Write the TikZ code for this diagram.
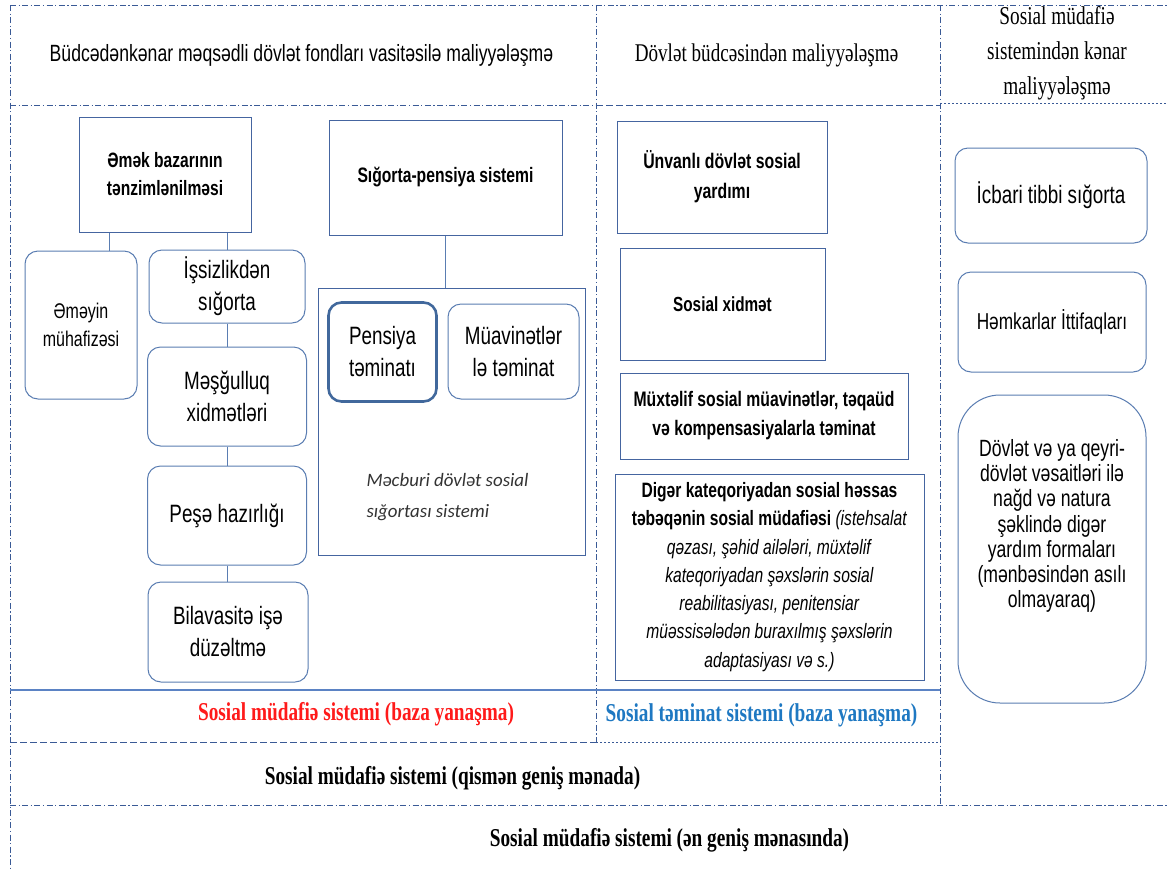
\documentclass[tikz,border=0pt]{standalone}
\usepackage{fontspec}
\setmainfont{Liberation Serif}
\newfontfamily\nsans[FakeStretch=0.75]{Liberation Sans}
\newfontfamily\nserif[FakeStretch=0.75]{Liberation Serif}
\newfontfamily\calfont{Carlito}
\newcommand\fsz[2]{\fontsize{#1}{#2}\selectfont}
\definecolor{bl}{HTML}{4565A0}
\definecolor{rbl}{HTML}{5A7DB2}
\definecolor{pbl}{HTML}{41689C}
\definecolor{dl}{HTML}{3A5A96}
\definecolor{tb}{HTML}{1E78C2}
\definecolor{rd}{HTML}{FF1A1A}
\definecolor{sl}{HTML}{5B83C4}
\begin{document}
\begin{tikzpicture}[x=1pt,y=-1pt,
 sq/.style={draw=bl,line width=1pt,fill=white,align=center,inner sep=1pt},
 rb/.style={sq,draw=rbl,rounded corners=13pt},
 conn/.style={draw=rbl,line width=0.9pt},
 dashdot/.style={draw=dl,line width=0.9pt,dash pattern=on 6pt off 2.5pt on 1.2pt off 2.5pt},
 dashl/.style={draw=dl,line width=0.9pt,dash pattern=on 7pt off 3pt},
 dotl/.style={draw=dl,line width=0.9pt,dash pattern=on 2pt off 2pt},
 reg/.style={font=\nsans\fsz{25.1}{32}},
 bld/.style={font=\nsans\bfseries\fsz{20.8}{28}},
 lab/.style={font=\nserif\bfseries\fsz{25.7}{28}},
 ]
\useasboundingbox[fill=white] (0,0) rectangle (1167,868);
% frame coordinates
\coordinate (L0) at (10,5);
\coordinate (L1) at (10,868);
\coordinate (E0) at (1167,5);
\coordinate (M0) at (596,5);
\coordinate (M1) at (596,742);
\coordinate (R0) at (940,5);
\coordinate (R1) at (940,805);
\coordinate (H0) at (10,105);
\coordinate (H1) at (596,105);
\coordinate (H2) at (940,105);
\coordinate (H3) at (940,103);
\coordinate (H4) at (1167,103);
\coordinate (S0) at (10,690);
\coordinate (S1) at (940,690);
\coordinate (D0) at (10,742);
\coordinate (D2) at (940,742);
\coordinate (B0) at (10,805);
\coordinate (B1) at (1167,805);
\draw[dashdot] (L0) -- (E0);
\draw[dashdot] (L0) -- (L1);
\draw[dashdot] (M0) -- (M1);
\draw[dashdot] (R0) -- (R1);
\draw[dashdot] (H0) -- (H1);
\draw[dashl] (H1) -- (H2);
\draw[dotl] (H3) -- (H4);
\draw[sl,line width=1.6pt] (S0) -- (S1);
\draw[dashl] (D0) -- (M1);
\draw[dotl] (M1) -- (D2);
\draw[dashdot] (B0) -- (B1);

% headers
\node[font=\nsans\fsz{23.5}{26}] (h1) at (301.5,55) {Büdcədənkənar məqsədli dövlət fondları vasitəsilə maliyyələşmə};
\node[font=\nserif\fsz{25.5}{26}] (h2) at (766.5,55) {Dövlət büdcəsindən maliyyələşmə};
\node[font=\nserif\fsz{25.7}{35},align=center] (h3) at (1057,53) {Sosial müdafiə\\sistemindən kənar\\maliyyələşmə};

% left block
\node[sq,bld,minimum width=172pt,minimum height=115pt] (emek) at (165,174.5) {Əmək bazarının\\tənzimlənilməsi};
\node[rb,font=\nsans\fsz{21.3}{28},minimum width=112pt,minimum height=148pt] (emeyin) at (81,325) {Əməyin\\mühafizəsi};
\node[rb,reg,minimum width=156pt,minimum height=73pt] (issiz) at (227,286.5) {İşsizlikdən\\sığorta};
\node[rb,reg,minimum width=159pt,minimum height=99pt] (mesg) at (227,396.5) {Məşğulluq\\xidmətləri};
\node[rb,reg,minimum width=159pt,minimum height=99pt] (pese) at (227,515.5) {Peşə hazırlığı};
\node[rb,reg,minimum width=160pt,minimum height=100pt] (bila) at (228,632) {Bilavasitə işə\\düzəltmə};
\coordinate (c1) at (109,0);
\draw[conn] (emek.south -| c1) -- (emeyin.north -| c1);
\draw[conn] (emek.south -| issiz.north) -- (issiz.north);
\draw[conn] (issiz) -- (mesg);
\draw[conn] (mesg) -- (pese);
\draw[conn] (pese.south) -- (pese.south |- bila.north);

% insurance block
\node[sq,font=\nsans\bfseries\fsz{20.9}{24},minimum width=233pt,minimum height=115pt] (sig) at (445.5,177.5) {Sığorta-pensiya sistemi};
\node[sq,minimum width=267pt,minimum height=267pt] (mec) at (451.5,421.5) {};
\draw[conn] (sig.south) -- (sig.south |- mec.north);
\node[rb,draw=pbl,line width=2.6pt,reg,minimum width=108pt,minimum height=99pt] (pens) at (382.5,352) {Pensiya\\təminatı};
\node[rb,reg,minimum width=131pt,minimum height=95pt] (muav) at (513.5,351.5) {Müavinətlər\\lə təminat};
\node[anchor=west,font=\calfont\itshape\fsz{18.9}{31},align=left,text=black!80] (mect) at (363,497) {Məcburi dövlət sosial\\sığortası sistemi};

% state budget block
\node[sq,font=\nsans\bfseries\fsz{21.1}{30},minimum width=210pt,minimum height=112pt] (unv) at (722,177) {Ünvanlı dövlət sosial\\yardımı};
\node[sq,font=\nsans\bfseries\fsz{20.4}{30},minimum width=205pt,minimum height=112pt] (sx) at (722.5,304) {Sosial xidmət};
\node[sq,font=\nsans\bfseries\fsz{21}{29},minimum width=288pt,minimum height=86pt] (mux) at (764,416) {Müxtəlif sosial müavinətlər, təqaüd\\və kompensasiyalarla təminat};
\node[sq,font=\nsans\fsz{20.8}{28.3},minimum width=309pt,minimum height=206pt] (dig) at (769.5,577) {\textbf{Digər kateqoriyadan sosial həssas}\\\textbf{təbəqənin sosial müdafiəsi} \textit{(istehsalat}\\\textit{qəzası, şəhid ailələri, müxtəlif}\\\textit{kateqoriyadan şəxslərin sosial}\\\textit{reabilitasiyası, penitensiar}\\\textit{müəssisələdən buraxılmış şəxslərin}\\\textit{adaptasiyası və s.)}};

% outside block
\node[rb,font=\nsans\fsz{25.1}{30},minimum width=192pt,minimum height=95pt] (icb) at (1051,195.5) {İcbari tibbi sığorta};
\node[rb,font=\nsans\fsz{23}{28},minimum width=188pt,minimum height=100pt] (hem) at (1052,322) {Həmkarlar İttifaqları};
\node[rb,rounded corners=42pt,minimum width=188pt,minimum height=308pt] (dov) at (1052,549) {};
\node[font=\nsans\fsz{23.5}{25.3},align=center] (dovt) at (1052,526) {Dövlət və ya qeyri-\\dövlət vəsaitləri ilə\\nağd və natura\\şəklində digər\\yardım formaları\\(mənbəsindən asılı\\olmayaraq)};

% system labels
\node[lab,text=rd] (lab1) at (356,714) {Sosial müdafiə sistemi (baza yanaşma)};
\node[lab,text=tb] (lab2) at (761.5,715) {Sosial təminat sistemi (baza yanaşma)};
\node[lab] (lab3) at (452.5,778) {Sosial müdafiə sistemi (qismən geniş mənada)};
\node[lab] (lab4) at (669.5,840) {Sosial müdafiə sistemi (ən geniş mənasında)};
\end{tikzpicture}
\end{document}
